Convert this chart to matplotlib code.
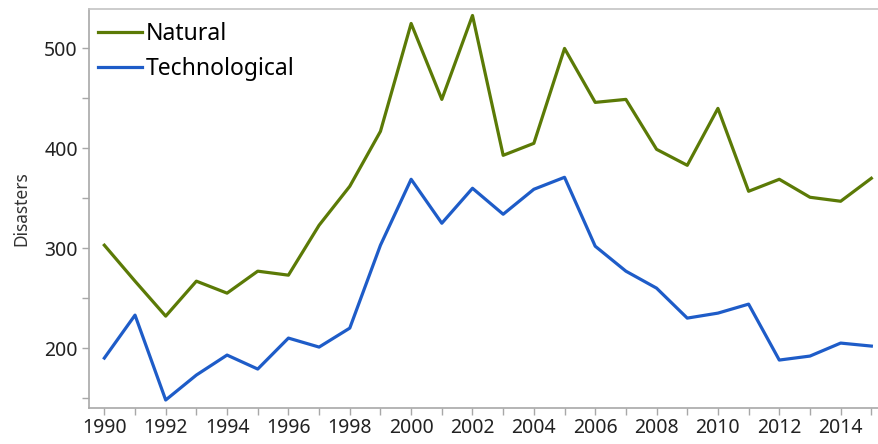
import numpy as np
import matplotlib.pyplot as plt
from matplotlib.ticker import MultipleLocator

plt.rcParams['font.family'] = ['Noto Sans', 'DejaVu Sans']

years = list(range(1990, 2016))
natural = [303, 267, 232, 267, 255, 277, 273, 323, 362, 417, 525, 449, 533,
           393, 405, 500, 446, 449, 399, 383, 440, 357, 369, 351, 347, 370]
technological = [190, 233, 148, 173, 193, 179, 210, 201, 220, 303, 369, 325, 360,
                 334, 359, 371, 302, 277, 260, 230, 235, 244, 188, 192, 205, 202]

fig = plt.figure(figsize=(8.79, 4.44), dpi=100)
ax = fig.add_axes([89 / 879, 1 - 408 / 444, 1 - 89 / 879, (408 - 8.5) / 444])

ax.plot(years, natural, color='#5b7a06', lw=2.3, label='Natural')
ax.plot(years, technological, color='#1e5cc8', lw=2.3, label='Technological')

ax.set_xlim(1989.5, 2015.25)
ax.set_ylim(140, 540)
ax.xaxis.set_major_locator(MultipleLocator(2))
ax.xaxis.set_minor_locator(MultipleLocator(1))
ax.yaxis.set_major_locator(MultipleLocator(100))
ax.yaxis.set_minor_locator(MultipleLocator(50))

for s in ['left', 'bottom']:
    ax.spines[s].set_color('#a8a8a8')
    ax.spines[s].set_linewidth(1.2)
ax.spines['top'].set_color('#c4c4c4')
ax.spines['top'].set_linewidth(1.2)
ax.spines['right'].set_visible(False)

ax.tick_params(which='both', color='#a8a8a8', width=1, labelsize=14, labelcolor='#222222')
ax.tick_params(axis='x', which='both', length=5, pad=2)
ax.tick_params(axis='y', which='both', length=5, pad=3)

ax.set_ylabel('Disasters', fontsize=12.5, color='#333333', labelpad=10)

ax.legend(loc='upper left', frameon=False, fontsize=16.5, handlelength=1.9,
          handletextpad=0.2, labelspacing=0.45, borderaxespad=0.2,
          bbox_to_anchor=(-0.006, 1.0))

fig.savefig('out.png', dpi=100)
